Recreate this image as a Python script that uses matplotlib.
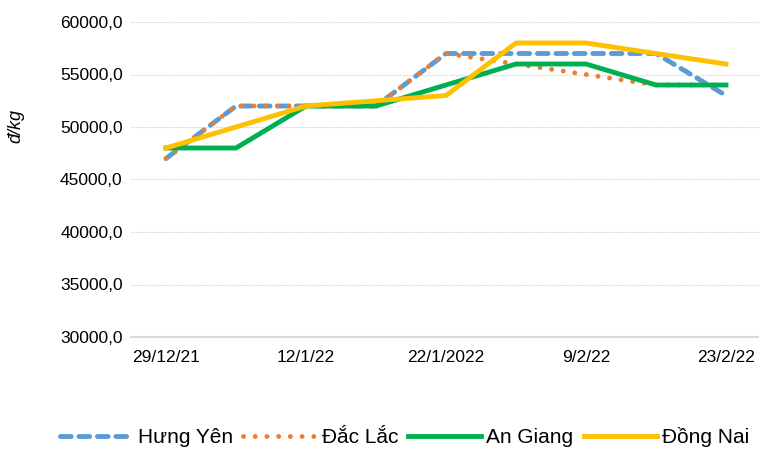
import matplotlib.pyplot as plt
from matplotlib.ticker import FuncFormatter

plt.rcParams['font.family'] = ['Liberation Sans', 'DejaVu Sans']

# dữ liệu
dates = ['29/12/21', '', '12/1/22', '', '22/1/2022', '', '9/2/22', '', '23/2/22']
hung_yen = [47000, 52000, 52000, 52000, 57000, 57000, 57000, 57000, 53000]
dak_lak = [47000, 52000, 52000, 52000, 57000, 56000, 55000, 54000, 54000]
an_giang = [48000, 48000, 52000, 52000, 54000, 56000, 56000, 54000, 54000]
dong_nai = [48000, 50000, 52000, 52500, 53000, 58000, 58000, 57000, 56000]

fig = plt.figure(figsize=(7.59, 4.49), dpi=100)
ax = fig.add_axes([131 / 759, 1 - 337 / 449, 630 / 759, 315 / 449])

x = range(len(dates))
ax.plot(x, hung_yen, color='#5B9BD5', lw=3.5, ls=(0, (2.2, 1.6)),
        dash_capstyle='round', label='Hưng Yên')
ax.plot(x, dak_lak, color='#ED7D31', lw=3.5, ls=(0, (0.01, 2.4)),
        dash_capstyle='round', label='Đắc Lắc')
ax.plot(x, an_giang, color='#00B050', lw=3.5, label='An Giang')
ax.plot(x, dong_nai, color='#FFC000', lw=3.5, label='Đồng Nai')

ax.set_xlim(-0.5, 8.5)
ax.set_ylim(30000, 60000)
ax.set_yticks(range(30000, 60001, 5000))
ax.yaxis.set_major_formatter(FuncFormatter(lambda v, p: f'{v:.1f}'.replace('.', ',')))
ax.set_xticks(list(x))
ax.set_xticklabels(dates)

ax.grid(axis='y', color='#d0d0d0', ls=(0, (1, 1)), lw=0.8)
ax.set_axisbelow(True)
for s in ['top', 'right', 'left']:
    ax.spines[s].set_visible(False)
ax.spines['bottom'].set_color('#d9d9d9')
ax.spines['bottom'].set_linewidth(1.5)
ax.tick_params(length=0, labelsize=12.5, colors='#000000')
ax.tick_params(axis='x', pad=9)
ax.tick_params(axis='y', pad=6)

ax.set_ylabel('đ/kg', fontsize=13, style='italic')
ax.yaxis.set_label_coords(-0.17, 0.67)

fig.legend(loc='center', ncol=4, frameon=False, fontsize=15,
           handlelength=3.5, columnspacing=0.5, handletextpad=0.25,
           bbox_to_anchor=(0.533, 1 - 437 / 449))

fig.savefig('out.png', dpi=100)
